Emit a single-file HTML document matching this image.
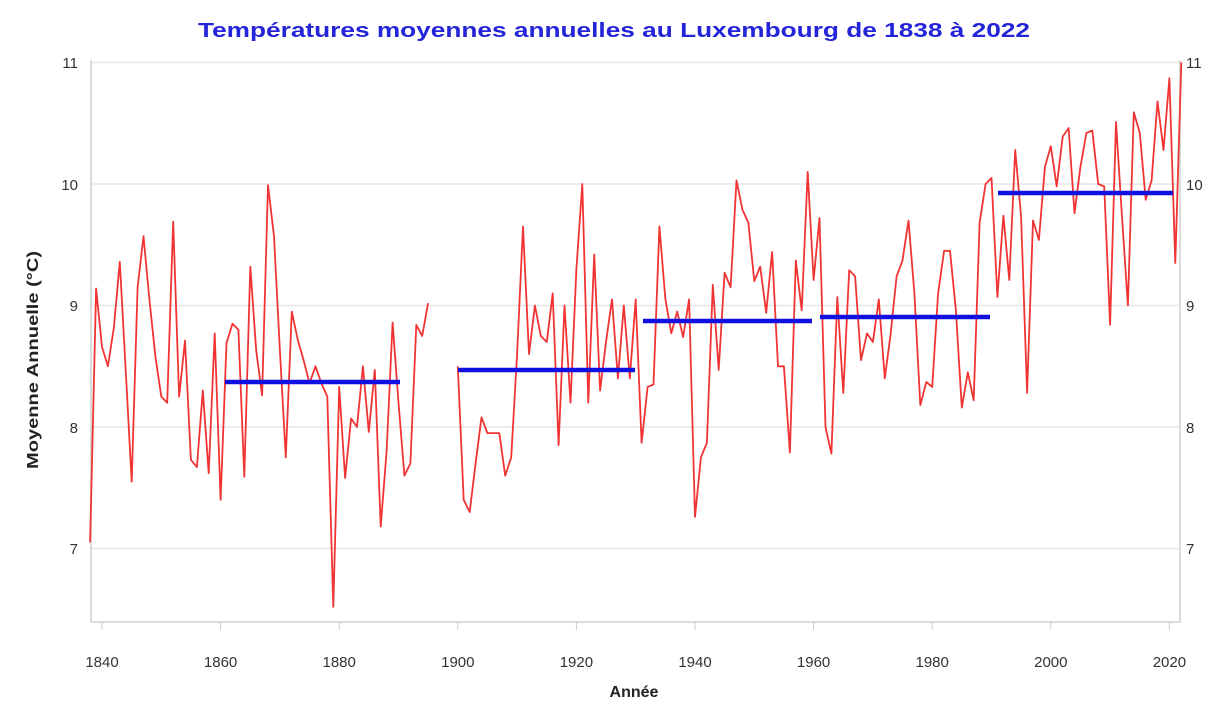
<!DOCTYPE html>
<html><head><meta charset="utf-8"><style>
html,body{margin:0;padding:0;background:#fff;}
svg{display:block;font-family:"Liberation Sans",sans-serif;}
</style></head><body>
<svg id="c" width="1224" height="719" viewBox="0 0 1224 719" xmlns="http://www.w3.org/2000/svg">
<rect width="1224" height="719" fill="#fff"/>
<text x="198" y="37" font-size="20" font-weight="bold" fill="#2424d8" textLength="832" lengthAdjust="spacingAndGlyphs">Températures moyennes annuelles au Luxembourg de 1838 à 2022</text>
<g stroke="#e6e6e6" stroke-width="1.5">
<line x1="91" y1="62.5" x2="1180" y2="62.5"/>
<line x1="91" y1="184" x2="1180" y2="184"/>
<line x1="91" y1="305.5" x2="1180" y2="305.5"/>
<line x1="91" y1="427" x2="1180" y2="427"/>
<line x1="91" y1="548.5" x2="1180" y2="548.5"/>
</g>
<g stroke="#cfcfcf" stroke-width="1.5" fill="none">
<line x1="91" y1="60" x2="91" y2="622"/>
<line x1="1180" y1="60" x2="1180" y2="622"/>
<line x1="91" y1="622" x2="1180" y2="622"/>
</g>
<g font-size="15" fill="#333" text-anchor="end">
<text x="78" y="68">11</text><text x="78" y="190">10</text><text x="78" y="311">9</text><text x="78" y="433">8</text><text x="78" y="554">7</text>
</g>
<g font-size="15" fill="#333" text-anchor="start">
<text x="1186" y="68">11</text><text x="1186" y="190">10</text><text x="1186" y="311">9</text><text x="1186" y="433">8</text><text x="1186" y="554">7</text>
</g>
<g font-size="15" fill="#333" text-anchor="middle" id="xt"></g>
<text x="634" y="697" text-anchor="middle" font-size="16" font-weight="bold" fill="#222">Année</text>
<text transform="translate(38,360) rotate(-90)" text-anchor="middle" font-size="16" font-weight="bold" fill="#222" textLength="218" lengthAdjust="spacingAndGlyphs">Moyenne Annuelle  (°C)</text>
<polyline id="s1" fill="none" stroke="#f03434" stroke-width="1.8" stroke-linejoin="round"/>
<polyline id="s2" fill="none" stroke="#f03434" stroke-width="1.8" stroke-linejoin="round"/>
<g stroke="#1010e0" stroke-width="4.5">
<line x1="225" y1="382" x2="400" y2="382"/>
<line x1="458" y1="370" x2="635" y2="370"/>
<line x1="643" y1="321" x2="812" y2="321"/>
<line x1="820" y1="317" x2="990" y2="317"/>
<line x1="998" y1="193" x2="1173" y2="193"/>
</g>
</svg>
<script>
var a=[7.05,9.14,8.66,8.5,8.82,9.36,8.47,7.55,9.15,9.57,9.05,8.58,8.25,8.2,9.69,8.25,8.71,7.73,7.67,8.3,7.62,8.77,7.4,8.69,8.85,8.8,7.59,9.32,8.63,8.26,9.99,9.57,8.63,7.75,8.95,8.72,8.55,8.36,8.5,8.36,8.25,6.52,8.33,7.58,8.07,8.0,8.5,7.96,8.47,7.18,7.8,8.86,8.2,7.6,7.7,8.84,8.75,9.02];
var b=[8.5,7.4,7.3,7.7,8.08,7.95,7.95,7.95,7.6,7.75,8.6,9.65,8.6,9.0,8.75,8.7,9.1,7.85,9.0,8.2,9.3,10.0,8.2,9.42,8.3,8.7,9.05,8.4,9.0,8.4,9.05,7.87,8.33,8.35,9.65,9.05,8.77,8.95,8.74,9.05,7.26,7.75,7.87,9.17,8.47,9.27,9.15,10.03,9.79,9.68,9.2,9.32,8.94,9.44,8.5,8.5,7.79,9.37,8.96,10.1,9.21,9.72,8.0,7.78,9.07,8.28,9.29,9.24,8.55,8.77,8.7,9.05,8.4,8.77,9.24,9.37,9.7,9.1,8.18,8.37,8.33,9.1,9.45,9.45,8.96,8.16,8.45,8.22,9.68,10.0,10.05,9.07,9.74,9.21,10.28,9.73,8.28,9.7,9.54,10.14,10.31,9.98,10.39,10.46,9.76,10.14,10.42,10.44,10.0,9.98,8.84,10.51,9.73,9.0,10.59,10.42,9.87,10.03,10.68,10.28,10.87,9.35,11.0];
function X(y){return 102+(y-1840)*5.93}function Y(v){return 184-(v-10)*121.5}
function pts(arr,s){return arr.map(function(v,i){return X(s+i).toFixed(1)+","+Y(v).toFixed(1)}).join(" ")}
document.getElementById("s1").setAttribute("points",pts(a,1838));
document.getElementById("s2").setAttribute("points",pts(b,1900));
var g=document.getElementById("xt"),ns="http://www.w3.org/2000/svg";
for(var yr=1840;yr<=2020;yr+=20){var t=document.createElementNS(ns,"text");t.setAttribute("x",X(yr));t.setAttribute("y",667);t.textContent=yr;g.appendChild(t);
var l=document.createElementNS(ns,"line");l.setAttribute("x1",X(yr));l.setAttribute("x2",X(yr));l.setAttribute("y1",622);l.setAttribute("y2",630);l.setAttribute("stroke","#ccc");g.appendChild(l);}
</script>
</body></html>
